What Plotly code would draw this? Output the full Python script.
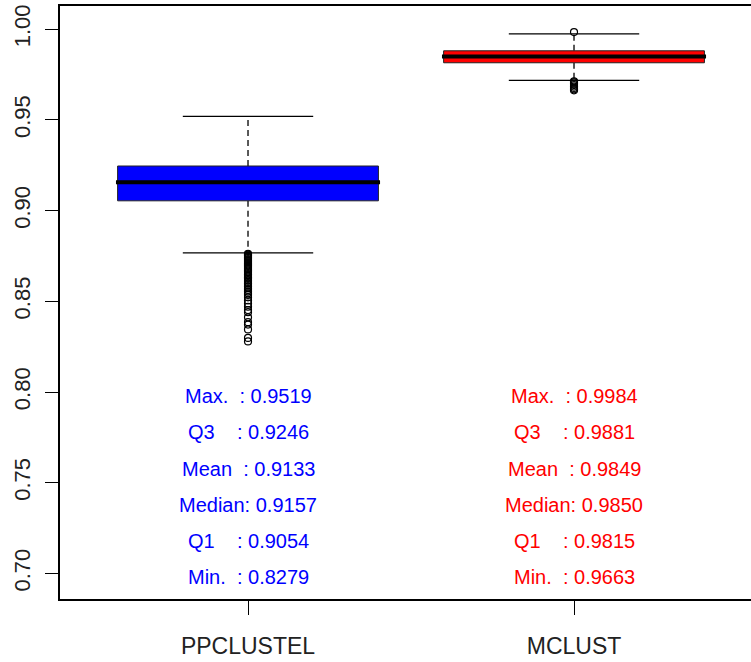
import plotly.graph_objects as go

# ---- data ----
categories = ["PPCLUSTEL", "MCLUST"]
box_colors = ["#0000FF", "#FF0000"]
q1_vals = [0.9054, 0.9815]
median_vals = [0.9157, 0.9850]
q3_vals = [0.9246, 0.9881]
whisker_low = [0.8767, 0.9718]
whisker_high = [0.9519, 0.9974]

outliers_ppclustel = [
    0.8762, 0.8757, 0.8751, 0.8745, 0.8739, 0.8733, 0.8727, 0.8721, 0.8715,
    0.8709, 0.8703, 0.8697, 0.8690, 0.8684, 0.8677, 0.8670, 0.8663, 0.8656,
    0.8648, 0.8640, 0.8632, 0.8624, 0.8616, 0.8607, 0.8598, 0.8590, 0.8581,
    0.8572, 0.8563, 0.8553, 0.8544, 0.8535, 0.8522, 0.8505, 0.8488, 0.8470,
    0.8452, 0.8440, 0.8412, 0.8385, 0.8372, 0.8345, 0.8298, 0.8279,
]
outliers_mclust = [0.9984, 0.9713, 0.9707, 0.9700, 0.9692, 0.9684, 0.9676, 0.9669, 0.9663]

stat_labels = ["Max.\u00a0\u00a0: ", "Q3\u00a0\u00a0\u00a0\u00a0: ", "Mean\u00a0\u00a0: ",
               "Median: ", "Q1\u00a0\u00a0\u00a0\u00a0: ", "Min.\u00a0\u00a0: "]
stats_ppclustel = ["0.9519", "0.9246", "0.9133", "0.9157", "0.9054", "0.8279"]
stats_mclust = ["0.9984", "0.9881", "0.9849", "0.9850", "0.9815", "0.9663"]
stat_text_y = [0.80, 0.78, 0.76, 0.74, 0.72, 0.70]

y_ticks = [0.70, 0.75, 0.80, 0.85, 0.90, 0.95, 1.00]
y_tick_text = ["0.70", "0.75", "0.80", "0.85", "0.90", "0.95", "1.00"]

# ---- style ----
BOX_HALF = 0.4
STAPLE_HALF = 0.2
FONT = "Liberation Sans, Arial, sans-serif"

fig = go.Figure()

outlier_sets = [outliers_ppclustel, outliers_mclust]
for i, cat in enumerate(categories):
    c = i + 1
    # whiskers (dashed)
    fig.add_trace(go.Scatter(x=[c, c], y=[q3_vals[i], whisker_high[i]], mode="lines",
                             line=dict(color="black", width=1.3, dash="6px,4px"),
                             hoverinfo="skip", showlegend=False))
    fig.add_trace(go.Scatter(x=[c, c], y=[q1_vals[i], whisker_low[i]], mode="lines",
                             line=dict(color="black", width=1.3, dash="6px,4px"),
                             hoverinfo="skip", showlegend=False))
    # staples
    for w in (whisker_high[i], whisker_low[i]):
        fig.add_trace(go.Scatter(x=[c - STAPLE_HALF, c + STAPLE_HALF], y=[w, w], mode="lines",
                                 line=dict(color="black", width=1.2),
                                 hoverinfo="skip", showlegend=False))
    # box
    fig.add_trace(go.Scatter(
        x=[c - BOX_HALF, c + BOX_HALF, c + BOX_HALF, c - BOX_HALF, c - BOX_HALF],
        y=[q1_vals[i], q1_vals[i], q3_vals[i], q3_vals[i], q1_vals[i]],
        mode="lines", fill="toself", fillcolor=box_colors[i],
        line=dict(color="#222222", width=1), name=cat, showlegend=False))
    # median
    fig.add_trace(go.Scatter(x=[c - BOX_HALF - 0.005, c + BOX_HALF + 0.005],
                             y=[median_vals[i], median_vals[i]], mode="lines",
                             line=dict(color="black", width=4),
                             hoverinfo="skip", showlegend=False))
    # outliers
    fig.add_trace(go.Scatter(x=[c] * len(outlier_sets[i]), y=outlier_sets[i], mode="markers",
                             marker=dict(symbol="circle-open", size=7,
                                         line=dict(color="black", width=1.2), color="black"),
                             showlegend=False))

stat_sets = [stats_ppclustel, stats_mclust]
for i in range(len(categories)):
    for lab, val, yy in zip(stat_labels, stat_sets[i], stat_text_y):
        fig.add_annotation(x=i + 1, y=yy, text=lab + val, showarrow=False,
                           xanchor="center", yanchor="middle", yshift=-4,
                           font=dict(family=FONT, size=20, color=box_colors[i]))

fig.update_layout(
    width=751, height=662,
    margin=dict(l=60, r=0, t=6, b=63),
    paper_bgcolor="white", plot_bgcolor="white",
    showlegend=False,
)
fig.update_xaxes(
    range=[0.4233, 2.5429], tickmode="array", tickvals=[1, 2], ticktext=categories,
    showgrid=False, zeroline=False, showline=True, mirror=True,
    linecolor="black", linewidth=1.5, ticks="outside", ticklen=14, tickcolor="black",
    tickfont=dict(family=FONT, size=23, color="#222222"), ticklabelstandoff=12,
)
fig.update_yaxes(
    range=[0.6859, 1.0128], tickmode="array", tickvals=y_ticks, ticktext=y_tick_text,
    showgrid=False, zeroline=False, showline=True, mirror=False,
    linecolor="black", linewidth=1.5, ticks="outside", ticklen=13, tickcolor="black",
    tickangle=-90, tickfont=dict(family=FONT, size=22, color="#222222"), ticklabelstandoff=6,
)

fig.write_html("out.html")
